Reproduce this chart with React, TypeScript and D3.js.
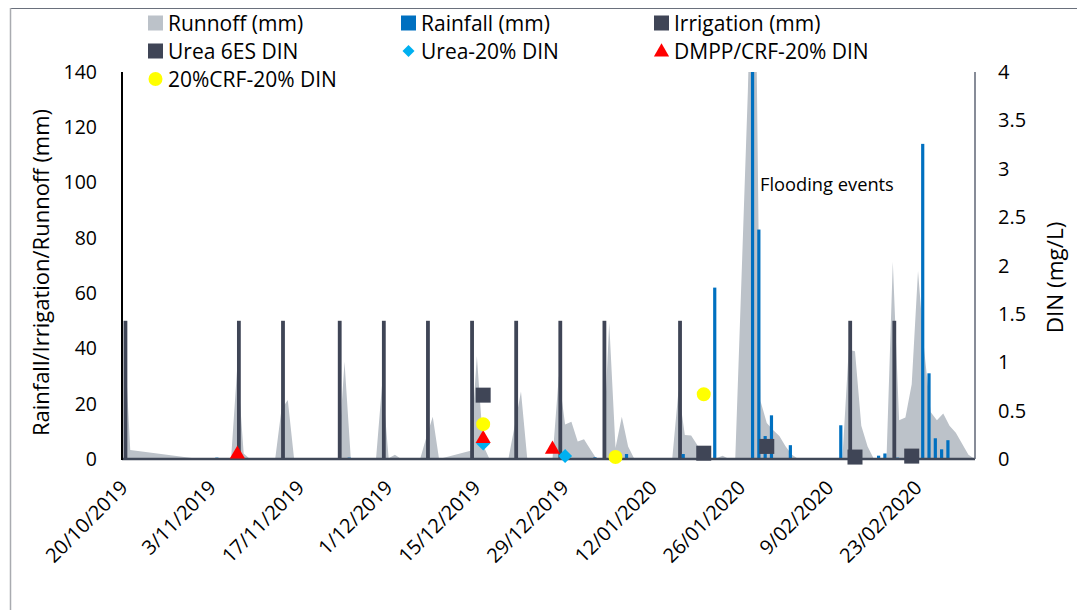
import React from 'react';
import * as d3 from 'd3';

const W = 1077;
const H = 610;

// ---- axis ticks ----
const leftTicks = [0, 20, 40, 60, 80, 100, 120, 140];
const rightTicks = [0, 0.5, 1, 1.5, 2, 2.5, 3, 3.5, 4];
const rightTickLabels = ['0', '0.5', '1', '1.5', '2', '2.5', '3', '3.5', '4'];
const tickDates = ['2019-10-20', '2019-11-03', '2019-11-17', '2019-12-01', '2019-12-15', '2019-12-29', '2020-01-12', '2020-01-26', '2020-02-09', '2020-02-23'];
const tickLabels = ['20/10/2019', '3/11/2019', '17/11/2019', '1/12/2019', '15/12/2019', '29/12/2019', '12/01/2020', '26/01/2020', '9/02/2020', '23/02/2020'];

// ---- irrigation (mm) ----
const irrigationDates = ['2019-10-20', '2019-11-07', '2019-11-14', '2019-11-23', '2019-11-30', '2019-12-07', '2019-12-14', '2019-12-21', '2019-12-28', '2020-01-04', '2020-01-16', '2020-02-12', '2020-02-19'];
const irrigationValues = [50, 50, 50, 50, 50, 50, 50, 50, 50, 50, 50, 50, 50];

// ---- rainfall (mm) ----
const rainfallDates = ['2019-11-03', '2019-11-24', '2020-01-02', '2020-01-07', '2020-01-16', '2020-01-21', '2020-01-27', '2020-01-28', '2020-01-29', '2020-01-30', '2020-02-02', '2020-02-10', '2020-02-16', '2020-02-17', '2020-02-19', '2020-02-23', '2020-02-24', '2020-02-25', '2020-02-26', '2020-02-27'];
const rainfallValues = [0.5, 0.5, 0.6, 1.8, 1.8, 62, 155, 83, 8.3, 15.8, 5, 12.2, 1.2, 2, 0.5, 114, 31, 7.5, 3.5, 6.8];

// ---- runoff (mm) ----
const runoffDates = ['2019-10-20', '2019-10-21', '2019-11-01', '2019-11-06', '2019-11-07', '2019-11-08', '2019-11-09', '2019-11-13', '2019-11-14', '2019-11-15', '2019-11-16', '2019-11-23', '2019-11-24', '2019-11-25', '2019-11-29', '2019-11-30', '2019-12-01', '2019-12-02', '2019-12-03', '2019-12-06', '2019-12-07', '2019-12-08', '2019-12-09', '2019-12-14', '2019-12-15', '2019-12-16', '2019-12-17', '2019-12-20', '2019-12-21', '2019-12-22', '2019-12-23', '2019-12-27', '2019-12-28', '2019-12-29', '2019-12-30', '2019-12-31', '2020-01-01', '2020-01-02', '2020-01-03', '2020-01-04', '2020-01-05', '2020-01-06', '2020-01-07', '2020-01-08', '2020-01-09', '2020-01-15', '2020-01-16', '2020-01-17', '2020-01-18', '2020-01-19', '2020-01-20', '2020-01-22', '2020-01-23', '2020-01-24', '2020-01-25', '2020-01-26', '2020-01-27', '2020-01-28', '2020-01-29', '2020-01-30', '2020-01-31', '2020-02-01', '2020-02-02', '2020-02-03', '2020-02-04', '2020-02-11', '2020-02-12', '2020-02-13', '2020-02-14', '2020-02-15', '2020-02-16', '2020-02-18', '2020-02-19', '2020-02-20', '2020-02-21', '2020-02-22', '2020-02-23', '2020-02-24', '2020-02-25', '2020-02-26', '2020-02-27', '2020-02-28', '2020-02-29', '2020-03-01', '2020-03-02', '2020-03-03'];
const runoffValues = [48, 3.3, 0, 0, 34, 2, 0, 0, 18, 21.3, 0, 0, 35.2, 0, 0, 28, 0.3, 1.5, 0, 0, 8, 15.3, 0, 3, 37.3, 5, 0, 0, 12, 24.4, 0, 0, 30, 12.5, 13.5, 6.3, 7.1, 3.5, 0, 0, 49.3, 4, 15.3, 4.5, 0, 0, 25, 8.7, 8.5, 5, 0, 0.3, 1.2, 0, 0, 66, 133, 225, 21, 13, 10.5, 8.3, 4.5, 1.5, 0, 0, 39.5, 39, 12, 4.5, 0, 0, 71.4, 14, 15, 27, 68, 39, 17, 14, 16.5, 12, 9.5, 5.5, 1.5, 0];

// ---- DIN (mg/L) ----
const urea6esDates = ['2019-12-16', '2020-01-20', '2020-01-30', '2020-02-13', '2020-02-22'];
const urea6esValues = [0.66, 0.06, 0.13, 0.02, 0.03];
const urea20Dates = ['2019-12-16', '2019-12-29'];
const urea20Values = [0.16, 0.03];
const dmppDates = ['2019-11-07', '2019-12-16', '2019-12-27'];
const dmppValues = [0.05, 0.21, 0.1];
const crfDates = ['2019-12-16', '2020-01-06', '2020-01-20'];
const crfValues = [0.36, 0.02, 0.67];

const C_RUNOFF = '#bcc2c9';
const C_RAIN = '#0070c0';
const C_DARK = '#3f4556';
const C_CYAN = '#00b0f0';
const C_RED = '#ff0000';
const C_YELLOW = '#ffff00';
const FONT = '"Open Sans", "DejaVu Sans", sans-serif';

const parse = d3.utcParse('%Y-%m-%d');
const DAY = 86400000;

export default function App() {
  const left = 122, right = 975, top = 72, bottom = 459;
  const t0 = (parse('2019-10-20') as Date).getTime();
  const x = d3.scaleUtc()
    .domain([new Date(t0 - 0.8 * DAY), new Date(t0 + 134.55 * DAY)])
    .range([left, right]);
  const yL = d3.scaleLinear().domain([0, 140]).range([bottom, top]);
  const yR = d3.scaleLinear().domain([0, 4]).range([bottom, top]);
  const cx = (s: string) => x(parse(s) as Date);
  const areaX = (s: string) => cx(s) - 3.1;

  const runoff = runoffDates.map((d, i) => ({ d, v: runoffValues[i] }));
  const areaGen = d3.area<{ d: string; v: number }>()
    .x(p => areaX(p.d))
    .y0(yL(0))
    .y1(p => yL(p.v));

  const sq = d3.symbol(d3.symbolSquare, 225)();
  const diamond = d3.symbol(d3.symbolSquare, 98)();
  const tri = d3.symbol(d3.symbolTriangle, 100)();
  const circ = d3.symbol(d3.symbolCircle, 154)();
  const legDiamond = d3.symbol(d3.symbolSquare, 72)();

  const legendItems = [
    { label: 'Runnoff (mm)', col: 0, row: 0, kind: 'sq', color: C_RUNOFF },
    { label: 'Rainfall (mm)', col: 1, row: 0, kind: 'sq', color: C_RAIN },
    { label: 'Irrigation (mm)', col: 2, row: 0, kind: 'sq', color: C_DARK },
    { label: 'Urea 6ES DIN', col: 0, row: 1, kind: 'sq', color: C_DARK },
    { label: 'Urea-20% DIN', col: 1, row: 1, kind: 'dia', color: C_CYAN },
    { label: 'DMPP/CRF-20% DIN', col: 2, row: 1, kind: 'tri', color: C_RED },
    { label: '20%CRF-20% DIN', col: 0, row: 2, kind: 'circ', color: C_YELLOW },
  ];
  const colX = [148, 401, 654];
  const rowY = [23, 51, 79];

  return (
    <svg width={W} height={H} style={{ position: 'absolute', left: 0, top: 0, background: '#fff' }} fontFamily={FONT}>
      <defs>
        <clipPath id="plot">
          <rect x={left} y={top} width={right - left} height={bottom - top} />
        </clipPath>
      </defs>
      <rect x={0} y={0} width={W} height={H} fill="#fff" />
      {/* outer chart border */}
      <line x1={10} y1={8.5} x2={W} y2={8.5} stroke="#6a707c" strokeWidth={1.2} />
      <line x1={10.5} y1={8} x2={10.5} y2={H} stroke="#a9abb0" strokeWidth={1.5} />

      {/* runoff area, irrigation and rainfall bars */}
      <g clipPath="url(#plot)">
        <path d={areaGen(runoff) || ''} fill={C_RUNOFF} />
        {irrigationDates.map((d, i) => (
          <rect key={'irr' + i} x={cx(d) - 1.6 - 1.9} y={yL(irrigationValues[i])} width={3.8} height={yL(0) - yL(irrigationValues[i])} fill={C_DARK} />
        ))}
        {rainfallDates.map((d, i) => (
          <rect key={'rain' + i} x={cx(d) + 1.6 - 1.6} y={yL(rainfallValues[i])} width={3.2} height={yL(0) - yL(rainfallValues[i])} fill={C_RAIN} />
        ))}
      </g>

      {/* axes lines */}
      <line x1={left} y1={bottom} x2={right} y2={bottom} stroke="#404858" strokeWidth={2.5} />
      <line x1={left} y1={top} x2={left} y2={bottom + 1} stroke="#000" strokeWidth={2} />
      <line x1={right} y1={top} x2={right} y2={bottom} stroke="#5f6676" strokeWidth={1.5} />

      {/* DIN markers */}
      {urea6esDates.map((d, i) => (
        <path key={'u6' + i} d={sq || ''} transform={`translate(${areaX(d)},${yR(urea6esValues[i])})`} fill={C_DARK} />
      ))}
      {urea20Dates.map((d, i) => (
        <path key={'u20' + i} d={diamond || ''} transform={`translate(${areaX(d)},${yR(urea20Values[i])}) rotate(45)`} fill={C_CYAN} />
      ))}
      {dmppDates.map((d, i) => (
        <path key={'dm' + i} d={tri || ''} transform={`translate(${areaX(d)},${yR(dmppValues[i])})`} fill={C_RED} />
      ))}
      {crfDates.map((d, i) => (
        <path key={'crf' + i} d={circ || ''} transform={`translate(${areaX(d)},${yR(crfValues[i])})`} fill={C_YELLOW} />
      ))}

      {/* left ticks */}
      {leftTicks.map(t => (
        <text key={'lt' + t} x={97} y={yL(t)} dy="0.35em" textAnchor="end" fontSize={19.5} fill="#000">{t}</text>
      ))}
      {/* right ticks */}
      {rightTicks.map((t, i) => (
        <text key={'rt' + t} x={998} y={yR(t)} dy="0.35em" textAnchor="start" fontSize={20} fill="#000">{rightTickLabels[i]}</text>
      ))}
      {/* x tick labels */}
      {tickDates.map((d, i) => (
        <text key={'xt' + i} transform={`translate(${cx(d) + 2},${bottom + 30}) rotate(-45)`} textAnchor="end" fontSize={20} fill="#000">{tickLabels[i]}</text>
      ))}

      {/* axis titles */}
      <text transform={`translate(49,${(top + bottom) / 2 + 7}) rotate(-90)`} textAnchor="middle" fontSize={22} fill="#000">Rainfall/Irrigation/Runnoff (mm)</text>
      <text transform={`translate(1063,${(top + bottom) / 2 + 12}) rotate(-90)`} textAnchor="middle" fontSize={22.5} fill="#000">DIN (mg/L)</text>

      {/* annotation */}
      <text x={760} y={191} fontSize={18.3} fill="#000">Flooding events</text>

      {/* legend */}
      {legendItems.map((it, i) => {
        const mx = colX[it.col] + 7.5;
        const my = rowY[it.row];
        let marker;
        if (it.kind === 'sq') marker = <rect x={mx - 7.5} y={my - 7.5} width={15} height={15} fill={it.color} />;
        else if (it.kind === 'dia') marker = <path d={legDiamond || ''} transform={`translate(${mx},${my}) rotate(45)`} fill={it.color} />;
        else if (it.kind === 'tri') marker = <path d={tri || ''} transform={`translate(${mx},${my + 1})`} fill={it.color} />;
        else marker = <path d={circ || ''} transform={`translate(${mx},${my})`} fill={it.color} />;
        return (
          <g key={'leg' + i}>
            {marker}
            <text x={colX[it.col] + 20} y={my} dy="0.36em" fontSize={21} fill="#000">{it.label}</text>
          </g>
        );
      })}
    </svg>
  );
}
